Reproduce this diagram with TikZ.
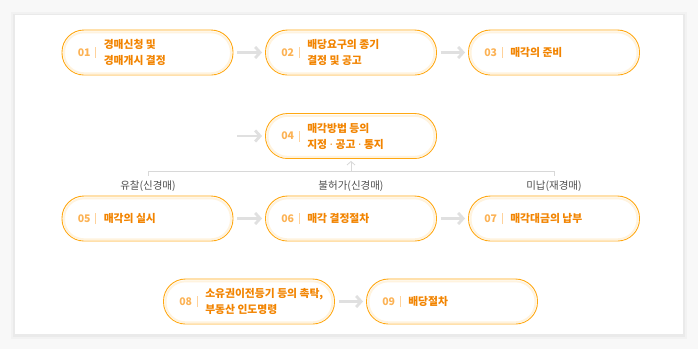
\documentclass[tikz,border=0pt]{standalone}
\usepackage{fontspec}
\setmainfont{Noto Sans CJK KR}
\newfontfamily\dotfont{Noto Sans}
\usetikzlibrary{arrows.meta,positioning}
\definecolor{pageback}{RGB}{248,248,248}
\definecolor{cardshadowout}{RGB}{242,242,242}
\definecolor{cardshadow}{RGB}{234,234,234}
\definecolor{pillline}{RGB}{255,168,18}
\definecolor{pillglow}{RGB}{255,243,222}
\definecolor{numtext}{RGB}{252,178,84}
\definecolor{steptext}{RGB}{242,132,0}
\definecolor{septick}{RGB}{255,210,155}
\definecolor{flowgrey}{RGB}{224,224,224}
\definecolor{linkgrey}{RGB}{216,216,216}
\definecolor{notetext}{RGB}{80,80,80}
\newcommand{\middot}{{\dotfont\bfseries\ ·\ }}
\tikzset{
  pill/.style={rectangle, rounded corners=22pt, draw=pillline, fill=white, line width=0.9pt, minimum width=171pt, minimum height=45pt},
  glow/.style={rectangle, rounded corners=20pt, draw=pillglow, line width=2pt, minimum width=167pt, minimum height=41pt},
  num/.style={font=\bfseries\fontsize{10.5}{12}\selectfont, text=numtext, inner sep=0pt, anchor=west},
  lbl/.style={font=\bfseries\fontsize{10.8}{16}\selectfont, text=steptext, align=left, inner sep=0pt, anchor=west},
  sep/.style={draw=septick, line width=0.6pt},
  flow/.style={-{Straight Barb[length=5pt,width=11pt]}, line width=2.8pt, draw=flowgrey, shorten <=4pt, shorten >=3pt},
  link/.style={draw=linkgrey, line width=0.8pt},
  linkarr/.style={link, -{Straight Barb[length=3.5pt,width=8pt]}, shorten >=2pt},
  note/.style={font=\fontsize{10.5}{12}\selectfont, text=notetext, inner sep=1pt},
}

\begin{document}
\begin{tikzpicture}[x=1pt,y=1pt]
  \useasboundingbox (0,0) rectangle (698,-349);
  \fill[pageback] (0,0) rectangle (698,-349);
  % card
  \fill[cardshadowout] (11,-12) rectangle (687,-339);
  \fill[cardshadow] (13,-14) rectangle (685,-336.5);
  \fill[white] (15,-15) rectangle (683,-334);
  % steps
  \foreach \i/\x/\y/\t in {
    01/147.5/52.5/{경매신청 및\\경매개시 결정},
    02/351/52.5/{배당요구의 종기\\결정 및 공고},
    03/554/52.5/{매각의 준비},
    04/351/136/{매각방법 등의\\지정\middot 공고\middot 통지},
    05/147.5/218.5/{매각의 실시},
    06/351/218.5/{매각 결정절차},
    07/554/218.5/{매각대금의 납부},
    08/249/301.5/{소유권이전등기 등의 촉탁,\\부동산 인도명령},
    09/452/301.5/{배당절차}}{
    \node[pill] (p\i) at (\x,-\y) {};
    \node[glow] (g\i) at ([yshift=-0.3pt]p\i.center) {};
    \node[num] (n\i) at ([xshift=16pt]p\i.west) {\i};
    \draw[sep] ([xshift=34pt,yshift=-5.5pt]p\i.west) -- ([xshift=34pt,yshift=5.5pt]p\i.west);
    \node[lbl] (t\i) at ([xshift=42pt]p\i.west) {\t};
  }
  % flow arrows
  \foreach \a/\b in {01/02,02/03,05/06,06/07,08/09}{\draw[flow] (p\a) -- (p\b);}
  \coordinate (in04) at (233,-136);
  \draw[flow] (in04) -- (p04);
  % outcomes of the sale
  \node[note] (r05) at (148,-186) {유찰(신경매)};
  \node[note] (r06) at (351,-186) {불허가(신경매)};
  \node[note] (r07) at (554,-186) {미납(재경매)};
  \coordinate (b05) at (148,-175.5);
  \coordinate (b07) at (554,-175.5);
  \coordinate (bmid) at (351,-171);
  \draw[link] (b05) -- ++(0,4.5) -| (b07);
  \draw[linkarr] (bmid) -- (p04);
\end{tikzpicture}
\end{document}
